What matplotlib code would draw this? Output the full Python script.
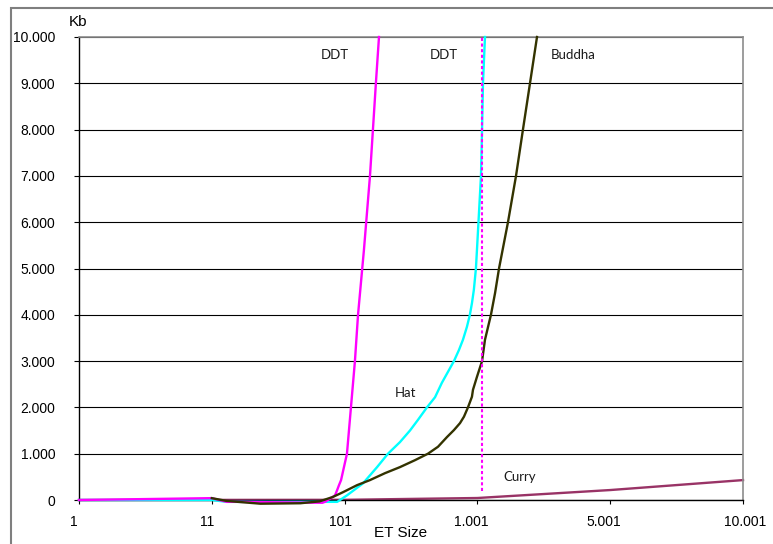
import matplotlib
matplotlib.use('Agg')
import matplotlib.pyplot as plt
import matplotlib.transforms as mtransforms
from matplotlib.patches import Rectangle
from matplotlib.ticker import FixedLocator, FuncFormatter
import numpy as np

plt.rcParams['font.family'] = ['Liberation Sans', 'DejaVu Sans']

# category ticks of the ET size axis (equally spaced)
x_ticks = [1, 11, 101, 1001, 5001, 10001]
y_ticks = list(range(0, 10001, 1000))

ddt_x = [1, 11, 21, 29, 86, 88, 94.5, 95.9, 97.2, 98.6, 117, 144, 171, 192, 232, 273, 293,
         313, 334]
ddt_y = [0, 40, -40, -40, -60, -35, 100, 210, 320, 430, 1000, 2000, 3000, 4000, 5400, 7000,
         8000, 9000, 10000]

hat_x = [1, 11, 21, 29, 96, 117, 226, 321, 395, 476, 544, 598, 659, 714, 760, 842, 876, 903,
         930, 950, 964, 977, 991, 998, 1109, 1141, 1169, 1229]
hat_y = [0, 0, -40, -40, -40, 100, 360, 710, 1000, 1250, 1500, 1730, 2000, 2220, 2530, 3000,
         3240, 3460, 3740, 4000, 4250, 4540, 5000, 5400, 7000, 8000, 9000, 10000]

buddha_x = [11, 21, 44, 71, 84, 93, 100, 185, 273, 375, 476, 578, 666, 734, 795, 842, 883,
            910, 937, 964, 971, 998, 1141, 1229, 1409, 1533, 1652, 1922, 2164, 2373, 2585,
            2796]
buddha_y = [40, -20, -80, -70, -30, 65, 170, 320, 430, 580, 710, 860, 1000, 1150, 1360, 1510,
            1660, 1800, 2000, 2230, 2380, 2660, 3000, 3460, 4000, 4470, 5000, 6000, 7000,
            8000, 9000, 10000]

curry_x = [1, 101, 1001, 5001, 10001]
curry_y = [0, 4, 43, 215, 430]

ddt_limit_x = [1141, 1141]
ddt_limit_y = [200, 10000]

pos = np.arange(len(x_ticks))


def fwd(v):
    return np.interp(v, x_ticks, pos)


def inv(u):
    return np.interp(u, pos, x_ticks)


def dotted(v, _):
    return f"{int(round(v)):,}".replace(',', '.')


W, H = 773, 544
fig = plt.figure(figsize=(W / 100, H / 100), dpi=100)
ax = fig.add_axes([79 / W, 1 - 500 / H, 664 / W, 463 / H])

# chart area frame
fig.patches.append(Rectangle((11 / W, -0.1), 1.2, 1.1 - 8 / H, transform=fig.transFigure,
                             fill=False, edgecolor='#7f7f7f', lw=1.5))

ax.set_xscale('function', functions=(fwd, inv))
ax.set_xlim(1, 10001)
ax.set_ylim(0, 10000)

ax.yaxis.set_major_locator(FixedLocator(y_ticks))
ax.xaxis.set_major_locator(FixedLocator(x_ticks))
ax.xaxis.set_minor_locator(FixedLocator([]))
ax.yaxis.set_major_formatter(FuncFormatter(dotted))
ax.xaxis.set_major_formatter(FuncFormatter(dotted))
ax.grid(axis='y', color='black', lw=0.8)
ax.set_axisbelow(True)

for s in ['top', 'right']:
    ax.spines[s].set_color('#8c8c8c')
    ax.spines[s].set_linewidth(1.2)
for s in ['left', 'bottom']:
    ax.spines[s].set_color('black')
    ax.spines[s].set_linewidth(1.0)

ax.tick_params(axis='y', direction='out', length=3.6, width=0.8, pad=13.5, labelsize=10)
ax.tick_params(axis='x', direction='out', length=3.0, width=0.8, pad=8, labelsize=10)

# label offsets along x
shifts = [-5, -5, -4, -6, -6, 2]
for lab, dx in zip(ax.get_xticklabels(), shifts):
    lab.set_transform(lab.get_transform() + mtransforms.ScaledTranslation(dx / 100, 0, fig.dpi_scale_trans))

ax.plot(curry_x, curry_y, color='#993366', lw=1.7, zorder=2, clip_on=False)
ax.plot(hat_x, hat_y, color='#00FFFF', lw=1.7, zorder=3, clip_on=False)
ax.plot(ddt_x, ddt_y, color='#FF00FF', lw=1.7, zorder=4, clip_on=False)
ax.plot(buddha_x, buddha_y, color='#333300', lw=1.7, zorder=5, clip_on=False)
ax.plot(ddt_limit_x, ddt_limit_y, color='#FF00FF', lw=1.5, ls=(0, (1.5, 1.2)), zorder=6)

lab_font = dict(family=['Lato', 'DejaVu Sans'], fontsize=9.5, color='#1a1a1a',
                ha='center', va='center', transform=ax.transAxes)
ax.text(0.386, 0.961, 'DDT', **lab_font)
ax.text(0.550, 0.961, 'DDT', **lab_font)
ax.text(0.745, 0.961, 'Buddha', **lab_font)
ax.text(0.492, 0.231, 'Hat', **lab_font)
ax.text(0.664, 0.050, 'Curry', **lab_font)

fig.text(69 / W, 1 - 22 / H, 'Kb', fontsize=11, ha='left', va='center')
fig.text(401 / W, 1 - 533 / H, 'ET Size', fontsize=11, ha='center', va='center')

fig.savefig('out.png', dpi=100)
